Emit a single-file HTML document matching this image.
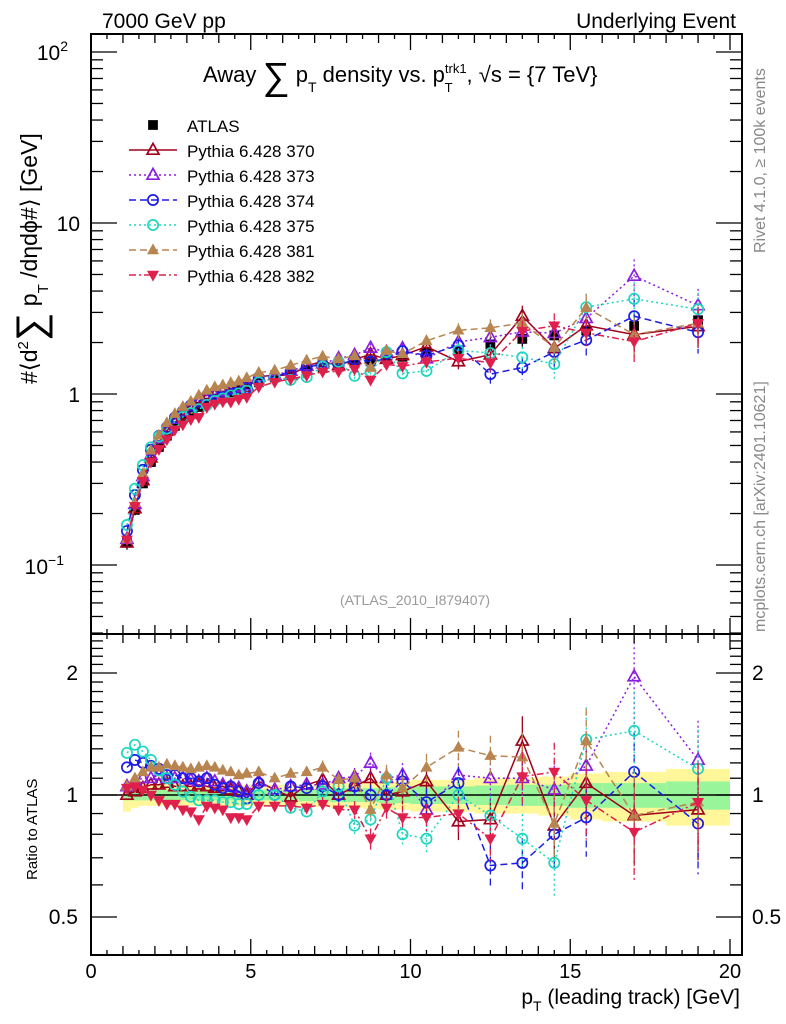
<!DOCTYPE html>
<html><head><meta charset="utf-8">
<style>
html,body{margin:0;padding:0;background:#fff;}
svg{display:block;font-family:"Liberation Sans",sans-serif;}
</style></head>
<body>
<svg id="chart" width="786" height="1024" viewBox="0 0 786 1024" xmlns="http://www.w3.org/2000/svg">
<defs>
<clipPath id="clipMain"><rect x="91" y="34" width="651" height="600"/></clipPath>
<clipPath id="clipRatio"><rect x="91" y="634" width="651" height="321"/></clipPath>
</defs>
<g id="bands" clip-path="url(#clipRatio)"></g>
<line x1="91" y1="795" x2="742" y2="795" stroke="#000" stroke-width="1.5"/>
<g id="marksMain" clip-path="url(#clipMain)"></g>
<g id="marksRatio" clip-path="url(#clipRatio)"></g>
<g id="axes"></g>
<text x="102" y="28" font-size="21">7000 GeV pp</text>
<text x="736" y="28" font-size="21" text-anchor="end">Underlying Event</text>
<text x="203" y="82" font-size="22">Away <tspan font-size="38" dy="7">∑</tspan><tspan dy="-7"> p</tspan><tspan font-size="14" dy="10">T</tspan><tspan dy="-10"> density vs. p</tspan><tspan font-size="13" dy="-9">trk1</tspan><tspan font-size="13" dx="-22" dy="19">T</tspan><tspan dx="14" dy="-10">, √s = {7 TeV}</tspan></text>
<text transform="translate(37,384) rotate(-90)" font-size="23">#⟨d<tspan font-size="15" dy="-9">2</tspan><tspan font-size="40" dy="16">∑</tspan><tspan dy="-7"> p</tspan><tspan font-size="15" dy="11">T</tspan><tspan dy="-11"> /dηdϕ#⟩ [GeV]</tspan></text>
<text transform="translate(37,880) rotate(-90)" font-size="15">Ratio to ATLAS</text>
<text x="740" y="1004" font-size="21" text-anchor="end">p<tspan font-size="14" dy="7">T</tspan><tspan dy="-7"> (leading track) [GeV]</tspan></text>
<text x="415" y="605" font-size="14" fill="#999" text-anchor="middle">(ATLAS_2010_I879407)</text>
<text transform="translate(765,253) rotate(-90)" font-size="16" fill="#888">Rivet 4.1.0, ≥ 100k events</text>
<text transform="translate(765,632) rotate(-90)" font-size="16" fill="#888">mcplots.cern.ch [arXiv:2401.10621]</text>
<g id="legend"></g>
</svg>
<script>
const xVals=[1.125,1.375,1.625,1.875,2.125,2.375,2.625,2.875,3.125,3.375,3.625,3.875,4.125,4.375,4.625,4.875,5.25,5.75,6.25,6.75,7.25,7.75,8.25,8.75,9.25,9.75,10.5,11.5,12.5,13.5,14.5,15.5,17,19];
const xLow=[1,1.25,1.5,1.75,2,2.25,2.5,2.75,3,3.25,3.5,3.75,4,4.25,4.5,4.75,5,5.5,6,6.5,7,7.5,8,8.5,9,9.5,10,11,12,13,14,15,16,18];
const xHigh=[1.25,1.5,1.75,2,2.25,2.5,2.75,3,3.25,3.5,3.75,4,4.25,4.5,4.75,5,5.5,6,6.5,7,7.5,8,8.5,9,9.5,10,11,12,13,14,15,16,18,20];
const atlas=[0.135,0.21,0.30,0.40,0.49,0.57,0.65,0.72,0.78,0.84,0.89,0.94,0.98,1.02,1.06,1.10,1.17,1.25,1.30,1.38,1.42,1.47,1.52,1.55,1.60,1.65,1.75,1.80,1.95,2.10,2.20,2.35,2.50,2.70];
const atlasStat=[0.03,0.03,0.03,0.03,0.03,0.03,0.03,0.03,0.03,0.03,0.03,0.03,0.03,0.03,0.03,0.03,0.03,0.03,0.03,0.035,0.035,0.04,0.04,0.04,0.045,0.045,0.05,0.05,0.055,0.06,0.06,0.07,0.07,0.08];
const atlasTot=[0.09,0.07,0.06,0.06,0.06,0.06,0.06,0.06,0.06,0.06,0.06,0.06,0.06,0.06,0.06,0.06,0.06,0.06,0.06,0.06,0.065,0.07,0.07,0.075,0.08,0.08,0.09,0.09,0.1,0.1,0.11,0.13,0.14,0.16];
const mcErr=[0.02,0.02,0.02,0.02,0.02,0.02,0.02,0.02,0.02,0.02,0.02,0.02,0.02,0.02,0.02,0.02,0.03,0.03,0.03,0.03,0.04,0.04,0.05,0.06,0.06,0.07,0.08,0.1,0.12,0.15,0.18,0.2,0.25,0.25];
const r370=[1.0,1.02,1.04,1.06,1.06,1.07,1.05,1.05,1.05,1.06,1.05,1.04,1.05,1.03,1.02,1.0,1.08,1.03,0.99,1.06,1.09,1.0,1.05,1.1,1.0,1.02,1.08,0.86,0.87,1.36,0.84,1.07,0.89,0.92];
const r373=[1.05,1.08,1.1,1.1,1.12,1.1,1.1,1.1,1.09,1.08,1.1,1.08,1.06,1.05,1.04,1.02,1.08,1.03,1.05,1.06,1.06,1.1,1.11,1.2,1.1,1.12,0.92,1.12,1.1,1.1,1.03,1.18,1.96,1.22];
const r374=[1.17,1.22,1.2,1.18,1.16,1.12,1.12,1.1,1.1,1.08,1.1,1.06,1.04,1.05,1.02,0.98,1.07,1.0,1.05,1.04,1.05,1.0,1.05,1.0,1.0,1.08,0.96,1.07,0.67,0.68,0.80,0.88,1.14,0.85];
const r375=[1.27,1.33,1.28,1.22,1.15,1.1,1.06,1.02,0.99,0.97,0.97,0.97,0.96,0.96,0.95,0.95,1.0,1.0,0.93,0.91,1.02,1.05,0.84,0.87,1.1,0.8,0.78,1.0,0.89,0.78,0.68,1.37,1.44,1.16];
const r381=[1.05,1.1,1.14,1.17,1.17,1.19,1.18,1.17,1.16,1.17,1.18,1.17,1.15,1.14,1.12,1.13,1.14,1.1,1.13,1.14,1.17,1.09,1.1,0.92,1.12,1.04,1.17,1.31,1.25,1.24,0.85,1.36,0.89,0.96];
const r382=[1.04,1.05,1.03,1.0,0.97,0.95,0.95,0.92,0.91,0.87,0.94,0.93,0.92,0.88,0.88,0.87,0.94,0.94,0.94,0.93,0.95,0.92,0.92,0.78,0.93,0.88,0.88,0.90,0.78,1.11,1.14,0.97,0.81,0.96];
const seriesNames=['370','373','374','375','381','382'];
const seriesColors=['#a0001c','#8a1de0','#1c1ce6','#1ed6c0','#b88450','#e0204c'];
const seriesDash=['', '2,3', '7,4', '2,3', '7,4', '7,3,2,3'];
const seriesMarker=['tri-open','tri-open','circ-open','circ-open','tri-fill','tridown-fill'];
const seriesRatios=[r370,r373,r374,r375,r381,r382];

const NS='http://www.w3.org/2000/svg';
function el(tag,attrs,parent){const e=document.createElementNS(NS,tag);for(const k in attrs)e.setAttribute(k,attrs[k]);parent.appendChild(e);return e;}
const X0=91;
function sx(v){return X0+v*31.95;}
function sy(v){return 394-171*Math.log10(v);}
function sr(v){return 795-122*Math.log2(v);}

const bands=document.getElementById('bands');
for(let i=0;i<xVals.length;i++){
  const a=sx(xLow[i]),b=sx(xHigh[i]);
  const y=el('rect',{x:a,y:sr(1+atlasTot[i]),width:b-a,height:sr(1-atlasTot[i])-sr(1+atlasTot[i]),fill:'#fff799'},bands);
  
  
  const g=el('rect',{x:a,y:sr(1+atlasStat[i]),width:b-a,height:sr(1-atlasStat[i])-sr(1+atlasStat[i]),fill:'#99f599'},bands);
  
  
}

function marker(g,type,x,y,c,s){
  let m;
  if(type==='tri-open') m=el('path',{d:`M${x},${y-s*1.1}L${x+s},${y+s*0.7}L${x-s},${y+s*0.7}Z`,fill:'none',stroke:c,'stroke-width':1.7},g);
  else if(type==='tri-fill') m=el('path',{d:`M${x},${y-s*1.1}L${x+s},${y+s*0.7}L${x-s},${y+s*0.7}Z`,fill:c},g);
  else if(type==='tridown-fill') m=el('path',{d:`M${x},${y+s*1.1}L${x+s},${y-s*0.7}L${x-s},${y-s*0.7}Z`,fill:c},g);
  else if(type==='circ-open') m=el('circle',{cx:x,cy:y,r:s*0.85,fill:'none',stroke:c,'stroke-width':1.7},g);
  else m=el('rect',{x:x-s*0.75,y:y-s*0.75,width:s*1.5,height:s*1.5,fill:c},g);
  return m;
}

function drawSeries(parent,k,isRatio){
  const g=el('g',{},parent);
  
  
  const c=seriesColors[k],r=seriesRatios[k];
  const vals=r.map((v,i)=>isRatio?v:v*atlas[i]);
  const f=isRatio?sr:sy;
  const pts=xVals.map((x,i)=>sx(x)+','+f(vals[i])).join(' ');
  const attrs={points:pts,fill:'none',stroke:c,'stroke-width':1.5};
  if(seriesDash[k])attrs['stroke-dasharray']=seriesDash[k];
  const pl=el('polyline',attrs,g);
  
  
  xVals.forEach((x,i)=>{
    const v=vals[i],e=v*mcErr[i];
    if(mcErr[i]>0.025){
      const ea={x1:sx(x),x2:sx(x),y1:f(v+e),y2:f(Math.max(v-e,0.01)),stroke:c,'stroke-width':1.3};
      if(seriesDash[k])ea['stroke-dasharray']=seriesDash[k];
      const eb=el('line',ea,g);
      
      
    }
    const m=marker(g,seriesMarker[k],sx(x),f(v),c,6);
    
    
  });
}
function drawAtlas(parent){
  const g=el('g',{},parent);
  
  
  xVals.forEach((x,i)=>{
    const v=atlas[i];
    const eb=el('line',{x1:sx(x),x2:sx(x),y1:sy(v*(1+atlasTot[i])),y2:sy(v*(1-atlasTot[i])),stroke:'#000','stroke-width':1.3},g);
    
    
    const m=marker(g,'square',sx(x),sy(v),'#000',6.5);
    
    
  });
}
const mm=document.getElementById('marksMain'),mr=document.getElementById('marksRatio');
drawAtlas(mm);
for(let k=0;k<6;k++){drawSeries(mm,k,false);drawSeries(mr,k,true);}

const ax=document.getElementById('axes');
function line(x1,y1,x2,y2,w){const l=el('line',{x1,y1,x2,y2,stroke:'#000','stroke-width':w||1.5},ax);return l;}
function text(x,y,s,size,anchor,name){const t=el('text',{x,y,'font-size':size,'text-anchor':anchor||'middle'},ax);t.textContent=s;return t;}
const frame1=el('rect',{x:91,y:34,width:651,height:600,fill:'none',stroke:'#000','stroke-width':2},ax);

const frame2=el('rect',{x:91,y:634,width:651,height:321,fill:'none',stroke:'#000','stroke-width':2},ax);

const xTicks=[0,5,10,15,20];
for(let v=0;v<=20;v+=0.5){
  const x=sx(v),L=v%5===0?16:(v%1===0?9:5);
  line(x,634,x,634-L,1.3);line(x,34,x,34+L,1.3);
  line(x,955,x,955-L,1.3);line(x,634,x,634+L,1.3);
}
xTicks.forEach(v=>text(sx(v),978,String(v),20,'middle','x-tick-label'));
for(let d=-2;d<=2;d++){for(let m=1;m<10;m++){const v=m*Math.pow(10,d);const y=sy(v);if(y<34||y>634)continue;const L=m===1?26:12;line(91,y,91+L,y,1.3);line(742,y,742-L,y,1.3);}}
text(80,402,'1',21,'end','y-tick-label');
text(80,231,'10',21,'end','y-tick-label');
const t100=text(68,60,'10',21,'end','y-tick-label');const s100=el('tspan',{'font-size':14,dy:-9},t100);s100.textContent='2';
const t01=text(64,574,'10',21,'end','y-tick-label');const s01=el('tspan',{'font-size':14,dy:-9},t01);s01.textContent='−1';
const rMinor=[0.4,0.5,0.6,0.7,0.8,0.9,1,1.1,1.2,1.3,1.4,1.5,1.6,1.7,1.8,1.9,2,2.1,2.2,2.3,2.4,2.5];
rMinor.forEach(v=>{const y=sr(v);if(y<634||y>955)return;const big=(v===0.5||v===1||v===2);const L=big?26:12;line(91,y,91+L,y,1.3);line(742,y,742-L,y,1.3);});
[['2',2],['1',1],['0.5',0.5]].forEach(([s,v])=>{text(78,sr(v)+7,s,21,'end','ratio-tick-label');text(752,sr(v)+7,s,21,'start','ratio-tick-label');});

const lg=document.getElementById('legend');
const ly=[125,150,175,200,225,250,275];
const la=el('g',{},lg);
marker(la,'square',153,ly[0],'#000',6.5);
const lt=el('text',{x:187,y:ly[0]+7,'font-size':17},la);lt.textContent='ATLAS';
for(let k=0;k<6;k++){
  const g=el('g',{},lg);
  
  
  const a={x1:129,x2:177,y1:ly[k+1],y2:ly[k+1],stroke:seriesColors[k],'stroke-width':1.5};
  if(seriesDash[k])a['stroke-dasharray']=seriesDash[k];
  el('line',a,g);
  marker(g,seriesMarker[k],153,ly[k+1],seriesColors[k],6);
  const t=el('text',{x:187,y:ly[k+1]+7,'font-size':17},g);t.textContent='Pythia 6.428 '+seriesNames[k];
}
</script>
</body></html>
